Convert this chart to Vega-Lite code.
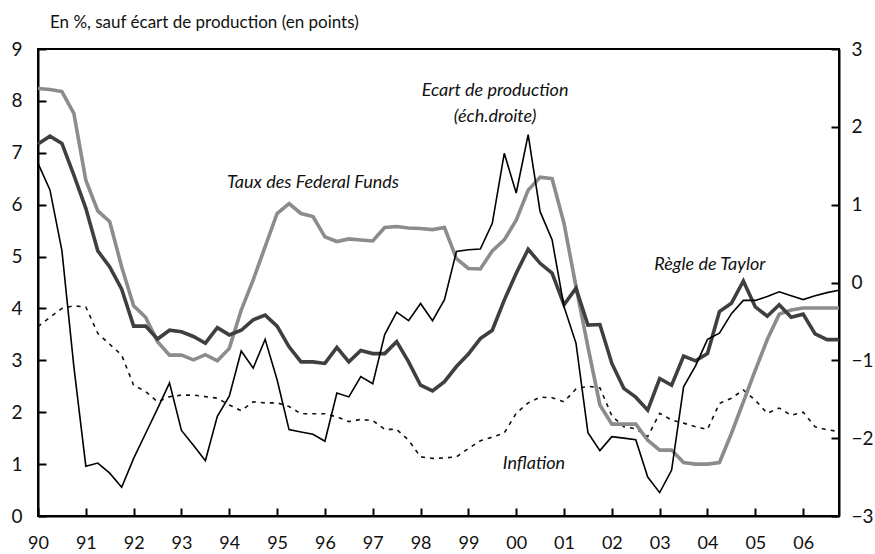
{
  "$schema": "https://vega.github.io/schema/vega-lite/v6.json",
  "autosize": "none",
  "width": 801,
  "height": 467,
  "padding": {"left": 38, "top": 49, "right": 36, "bottom": 38},
  "background": "white",
  "config": {
    "font": "Lato",
    "view": {"stroke": "black", "strokeWidth": 2},
    "axis": {"grid": false, "domainColor": "black", "domainWidth": 2, "tickColor": "black", "tickWidth": 2, "labelFont": "Lato", "labelFontSize": 19, "labelColor": "#111", "title": null}
  },
  "title": {"text": "En %, sauf écart de production (en points)", "anchor": "start", "frame": "group", "dx": 12, "offset": 8, "fontSize": 17, "fontWeight": "normal", "font": "Lato", "color": "#111"},
  "datasets": {
    "labels": [
      {"t": 1995.75, "v": 6.42, "label": "Taux des Federal Funds"},
      {"t": 1999.56, "v": 8.19, "label": "Ecart de production"},
      {"t": 1999.56, "v": 7.69, "label": "(éch.droite)"},
      {"t": 2004.05, "v": 4.84, "label": "Règle de Taylor"},
      {"t": 2000.37, "v": 1.0, "label": "Inflation"}
    ]
  },
  "data": {"values": [
    {"t": 1990.00, "fed": 8.24, "taylor": 7.17, "infl": 3.65, "gap": 1.53},
    {"t": 1990.25, "fed": 8.22, "taylor": 7.32, "infl": 3.83, "gap": 1.19},
    {"t": 1990.50, "fed": 8.18, "taylor": 7.18, "infl": 4.00, "gap": 0.41},
    {"t": 1990.75, "fed": 7.76, "taylor": 6.57, "infl": 4.05, "gap": -1.08},
    {"t": 1991.00, "fed": 6.47, "taylor": 5.93, "infl": 4.03, "gap": -2.36},
    {"t": 1991.25, "fed": 5.88, "taylor": 5.11, "infl": 3.52, "gap": -2.32},
    {"t": 1991.50, "fed": 5.67, "taylor": 4.80, "infl": 3.31, "gap": -2.45},
    {"t": 1991.75, "fed": 4.80, "taylor": 4.37, "infl": 3.10, "gap": -2.63},
    {"t": 1992.00, "fed": 4.05, "taylor": 3.66, "infl": 2.52, "gap": -2.26},
    {"t": 1992.25, "fed": 3.83, "taylor": 3.66, "infl": 2.40, "gap": -1.94},
    {"t": 1992.50, "fed": 3.36, "taylor": 3.41, "infl": 2.20, "gap": -1.62},
    {"t": 1992.75, "fed": 3.10, "taylor": 3.58, "infl": 2.30, "gap": -1.29},
    {"t": 1993.00, "fed": 3.10, "taylor": 3.55, "infl": 2.33, "gap": -1.90},
    {"t": 1993.25, "fed": 3.01, "taylor": 3.46, "infl": 2.33, "gap": -2.09},
    {"t": 1993.50, "fed": 3.11, "taylor": 3.33, "infl": 2.30, "gap": -2.29},
    {"t": 1993.75, "fed": 2.99, "taylor": 3.63, "infl": 2.27, "gap": -1.72},
    {"t": 1994.00, "fed": 3.23, "taylor": 3.49, "infl": 2.14, "gap": -1.46},
    {"t": 1994.25, "fed": 3.97, "taylor": 3.58, "infl": 2.03, "gap": -0.88},
    {"t": 1994.50, "fed": 4.55, "taylor": 3.78, "infl": 2.20, "gap": -1.10},
    {"t": 1994.75, "fed": 5.19, "taylor": 3.87, "infl": 2.18, "gap": -0.73},
    {"t": 1995.00, "fed": 5.83, "taylor": 3.66, "infl": 2.18, "gap": -1.25},
    {"t": 1995.25, "fed": 6.02, "taylor": 3.26, "infl": 2.11, "gap": -1.89},
    {"t": 1995.50, "fed": 5.83, "taylor": 2.97, "infl": 1.97, "gap": -1.92},
    {"t": 1995.75, "fed": 5.77, "taylor": 2.97, "infl": 1.97, "gap": -1.95},
    {"t": 1996.00, "fed": 5.38, "taylor": 2.94, "infl": 1.97, "gap": -2.04},
    {"t": 1996.25, "fed": 5.29, "taylor": 3.25, "infl": 1.91, "gap": -1.42},
    {"t": 1996.50, "fed": 5.34, "taylor": 2.97, "infl": 1.82, "gap": -1.47},
    {"t": 1996.75, "fed": 5.32, "taylor": 3.19, "infl": 1.86, "gap": -1.21},
    {"t": 1997.00, "fed": 5.30, "taylor": 3.13, "infl": 1.84, "gap": -1.30},
    {"t": 1997.25, "fed": 5.56, "taylor": 3.13, "infl": 1.67, "gap": -0.67},
    {"t": 1997.50, "fed": 5.58, "taylor": 3.36, "infl": 1.67, "gap": -0.38},
    {"t": 1997.75, "fed": 5.55, "taylor": 2.97, "infl": 1.46, "gap": -0.49},
    {"t": 1998.00, "fed": 5.54, "taylor": 2.52, "infl": 1.14, "gap": -0.27},
    {"t": 1998.25, "fed": 5.52, "taylor": 2.41, "infl": 1.11, "gap": -0.49},
    {"t": 1998.50, "fed": 5.56, "taylor": 2.59, "infl": 1.12, "gap": -0.22},
    {"t": 1998.75, "fed": 4.96, "taylor": 2.88, "infl": 1.14, "gap": 0.40},
    {"t": 1999.00, "fed": 4.77, "taylor": 3.12, "infl": 1.30, "gap": 0.42},
    {"t": 1999.25, "fed": 4.76, "taylor": 3.42, "infl": 1.45, "gap": 0.43},
    {"t": 1999.50, "fed": 5.11, "taylor": 3.58, "infl": 1.52, "gap": 0.76},
    {"t": 1999.75, "fed": 5.32, "taylor": 4.16, "infl": 1.60, "gap": 1.66},
    {"t": 2000.00, "fed": 5.70, "taylor": 4.68, "infl": 1.98, "gap": 1.15},
    {"t": 2000.25, "fed": 6.28, "taylor": 5.14, "infl": 2.18, "gap": 1.90},
    {"t": 2000.50, "fed": 6.53, "taylor": 4.87, "infl": 2.29, "gap": 0.91},
    {"t": 2000.75, "fed": 6.50, "taylor": 4.68, "infl": 2.28, "gap": 0.55},
    {"t": 2001.00, "fed": 5.64, "taylor": 4.07, "infl": 2.20, "gap": -0.31},
    {"t": 2001.25, "fed": 4.42, "taylor": 4.39, "infl": 2.45, "gap": -0.78},
    {"t": 2001.50, "fed": 3.26, "taylor": 3.68, "infl": 2.50, "gap": -1.93},
    {"t": 2001.75, "fed": 2.14, "taylor": 3.69, "infl": 2.47, "gap": -2.16},
    {"t": 2002.00, "fed": 1.77, "taylor": 2.94, "infl": 1.93, "gap": -1.98},
    {"t": 2002.25, "fed": 1.77, "taylor": 2.46, "infl": 1.72, "gap": -2.00},
    {"t": 2002.50, "fed": 1.77, "taylor": 2.29, "infl": 1.68, "gap": -2.02},
    {"t": 2002.75, "fed": 1.46, "taylor": 2.04, "infl": 1.53, "gap": -2.50},
    {"t": 2003.00, "fed": 1.27, "taylor": 2.65, "infl": 1.98, "gap": -2.70},
    {"t": 2003.25, "fed": 1.27, "taylor": 2.52, "infl": 1.85, "gap": -2.41},
    {"t": 2003.50, "fed": 1.03, "taylor": 3.08, "infl": 1.79, "gap": -1.34},
    {"t": 2003.75, "fed": 1.00, "taylor": 2.99, "infl": 1.72, "gap": -1.07},
    {"t": 2004.00, "fed": 1.00, "taylor": 3.13, "infl": 1.67, "gap": -0.73},
    {"t": 2004.25, "fed": 1.03, "taylor": 3.94, "infl": 2.17, "gap": -0.65},
    {"t": 2004.50, "fed": 1.59, "taylor": 4.10, "infl": 2.27, "gap": -0.40},
    {"t": 2004.75, "fed": 2.20, "taylor": 4.53, "infl": 2.43, "gap": -0.23},
    {"t": 2005.00, "fed": 2.81, "taylor": 4.03, "infl": 2.23, "gap": -0.23},
    {"t": 2005.25, "fed": 3.40, "taylor": 3.85, "infl": 1.98, "gap": -0.18},
    {"t": 2005.50, "fed": 3.89, "taylor": 4.07, "infl": 2.08, "gap": -0.12},
    {"t": 2005.75, "fed": 3.97, "taylor": 3.83, "infl": 1.94, "gap": -0.17},
    {"t": 2006.00, "fed": 4.01, "taylor": 3.89, "infl": 2.00, "gap": -0.22},
    {"t": 2006.25, "fed": 4.01, "taylor": 3.51, "infl": 1.72, "gap": -0.17},
    {"t": 2006.50, "fed": 4.01, "taylor": 3.40, "infl": 1.66, "gap": -0.13},
    {"t": 2006.75, "fed": 4.01, "taylor": 3.40, "infl": 1.63, "gap": -0.10}
  ]},
  "encoding": {
    "x": {"field": "t", "type": "quantitative", "scale": {"domain": [1990, 2006.75], "nice": false, "zero": false},
      "axis": {"values": [1990,1991,1992,1993,1994,1995,1996,1997,1998,1999,2000,2001,2002,2003,2004,2005,2006], "labelExpr": "format(datum.value % 100, '02d')", "tickSize": -8, "labelPadding": 26, "labelFontSize": 18, "labelFlush": false, "labelOverlap": false}}
  },
  "layer": [
    {"mark": {"type": "line", "color": "#111", "strokeWidth": 1.6, "strokeDash": [4, 5]},
     "encoding": {"y": {"field": "infl", "type": "quantitative", "scale": {"domain": [0, 9], "nice": false},
       "axis": {"orient": "left", "values": [0,1,2,3,4,5,6,7,8,9], "tickSize": -8, "labelPadding": 24}}}},
    {"mark": {"type": "line", "color": "#8c8c8c", "strokeWidth": 3.6},
     "encoding": {"y": {"field": "fed", "type": "quantitative", "scale": {"domain": [0, 9], "nice": false}, "axis": null}}},
    {"mark": {"type": "line", "color": "#3f3f3f", "strokeWidth": 3.6},
     "encoding": {"y": {"field": "taylor", "type": "quantitative", "scale": {"domain": [0, 9], "nice": false}, "axis": null}}},
    {"mark": {"type": "line", "color": "#000", "strokeWidth": 1.6},
     "encoding": {"y": {"field": "gap", "type": "quantitative", "scale": {"domain": [-3, 3], "nice": false, "zero": false},
       "axis": {"orient": "right", "values": [-3,-2,-1,0,1,2,3], "tickSize": -8, "labelPadding": 20}}}},
    {"data": {"name": "labels"},
     "mark": {"type": "text", "font": "Lato", "fontStyle": "italic", "fontSize": 18, "color": "#111", "align": "center", "baseline": "middle"},
     "encoding": {"y": {"field": "v", "type": "quantitative", "scale": {"domain": [0, 9], "nice": false}, "axis": null},
       "text": {"field": "label"}}}
  ],
  "resolve": {"scale": {"y": "independent"}, "axis": {"y": "independent"}}
}
